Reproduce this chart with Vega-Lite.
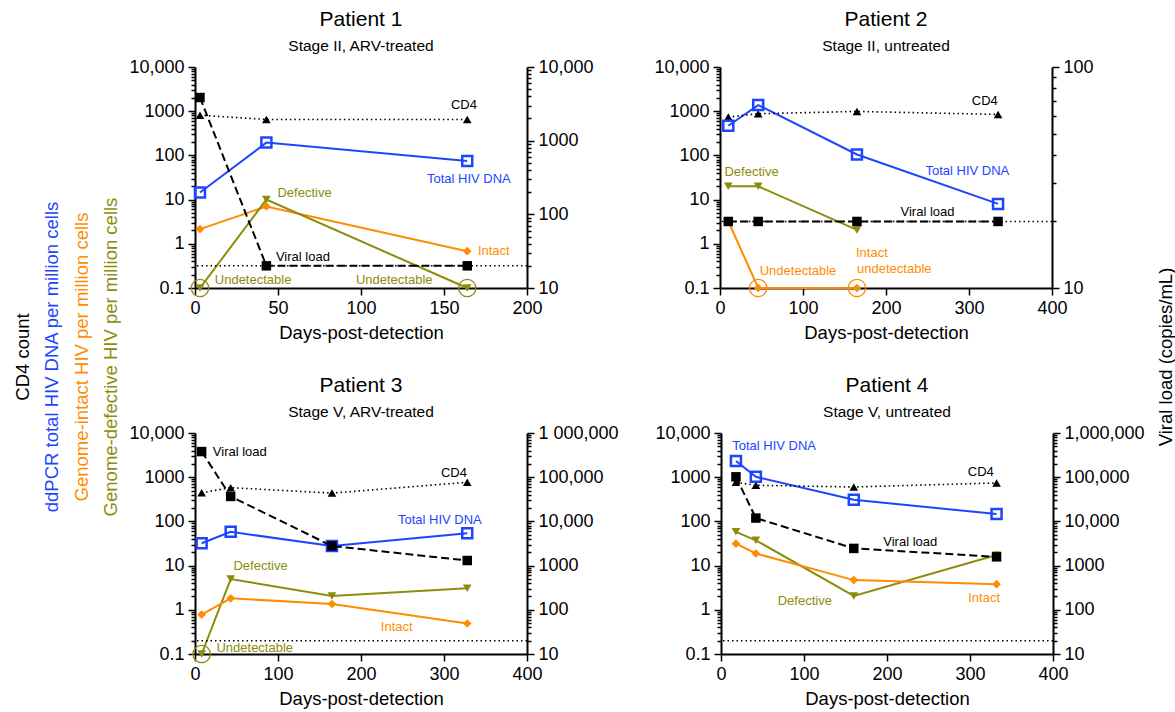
{
  "$schema": "https://vega.github.io/schema/vega-lite/v6.json",
  "background": "white",
  "padding": {"left": 5, "right": 3, "top": 8, "bottom": 4},
  "spacing": 11,
  "data": {"values": [
    {"p":"L","s":"CD4","t":"CD4 count"},
    {"p":"L","s":"Total","t":"ddPCR total HIV DNA per million cells"},
    {"p":"L","s":"Intact","t":"Genome-intact HIV per million cells"},
    {"p":"L","s":"Defective","t":"Genome-defective HIV per million cells"},
    {"p":"R","s":"VL","t":"Viral load (copies/mL)"},

    {"p":1,"s":"CD4","d":3,"v":810},{"p":1,"s":"CD4","d":43,"v":650},{"p":1,"s":"CD4","d":164,"v":650},
    {"p":1,"s":"Total","d":3,"v":14.5},{"p":1,"s":"Total","d":43,"v":195},{"p":1,"s":"Total","d":164,"v":75},
    {"p":1,"s":"Intact","d":3,"v":2.15},{"p":1,"s":"Intact","d":43,"v":7},{"p":1,"s":"Intact","d":164,"v":0.68},
    {"p":1,"s":"Defective","d":3,"v":0.1},{"p":1,"s":"Defective","d":43,"v":10},{"p":1,"s":"Defective","d":164,"v":0.1},
    {"p":1,"s":"VL","d":3,"v":3850},{"p":1,"s":"VL","d":43,"v":20},{"p":1,"s":"VL","d":164,"v":20},
    {"p":1,"s":"Limit","v":20},
    {"p":1,"s":"CD4","t":"CD4","d":162,"v":1400},
    {"p":1,"s":"Total","t":"Total HIV DNA","d":165,"v":29},
    {"p":1,"s":"Defective","t":"Defective","d":66,"v":14},
    {"p":1,"s":"Intact","t":"Intact","d":180,"v":0.68},
    {"p":1,"s":"VL","t":"Viral load","d":65,"v":0.5},
    {"p":1,"s":"Defective","t":"Undetectable","d":35,"v":0.15},
    {"p":1,"s":"Defective","t":"Undetectable","d":120,"v":0.15},

    {"p":2,"s":"Total","d":10,"v":468},{"p":2,"s":"Total","d":46,"v":1377},{"p":2,"s":"Total","d":165,"v":105},{"p":2,"s":"Total","d":335,"v":8},
    {"p":2,"s":"CD4","d":10,"v":736},{"p":2,"s":"CD4","d":46,"v":877},{"p":2,"s":"CD4","d":165,"v":988},{"p":2,"s":"CD4","d":335,"v":845},
    {"p":2,"s":"Defective","d":10,"v":20.1},{"p":2,"s":"Defective","d":46,"v":20},{"p":2,"s":"Defective","d":165,"v":2.06},
    {"p":2,"s":"Intact","d":10,"v":3.24},{"p":2,"s":"Intact","d":46,"v":0.1},{"p":2,"s":"Intact","d":165,"v":0.1},
    {"p":2,"s":"VL","d":10,"v":20},{"p":2,"s":"VL","d":46,"v":20},{"p":2,"s":"VL","d":165,"v":20},{"p":2,"s":"VL","d":335,"v":20},
    {"p":2,"s":"Limit","v":20},
    {"p":2,"s":"CD4","t":"CD4","d":319,"v":1660},
    {"p":2,"s":"Total","t":"Total HIV DNA","d":298,"v":44},
    {"p":2,"s":"Defective","t":"Defective","d":38,"v":42},
    {"p":2,"s":"VL","t":"Viral load","d":250,"v":5.2},
    {"p":2,"s":"Intact","t":"Undetectable","d":94,"v":0.24},
    {"p":2,"s":"Intact","t":"Intact","d":183,"v":0.62},
    {"p":2,"s":"Intact","t":"undetectable","d":210,"v":0.265},

    {"p":3,"s":"VL","d":8,"v":380000},{"p":3,"s":"VL","d":43,"v":36700},{"p":3,"s":"VL","d":165,"v":2775},{"p":3,"s":"VL","d":328,"v":1303},
    {"p":3,"s":"CD4","d":8,"v":446},{"p":3,"s":"CD4","d":43,"v":580},{"p":3,"s":"CD4","d":165,"v":437},{"p":3,"s":"CD4","d":328,"v":767},
    {"p":3,"s":"Total","d":8,"v":32},{"p":3,"s":"Total","d":43,"v":58},{"p":3,"s":"Total","d":165,"v":27.7},{"p":3,"s":"Total","d":328,"v":54},
    {"p":3,"s":"Defective","d":8,"v":0.1},{"p":3,"s":"Defective","d":43,"v":4.95},{"p":3,"s":"Defective","d":165,"v":2.06},{"p":3,"s":"Defective","d":328,"v":3.08},
    {"p":3,"s":"Intact","d":8,"v":0.78},{"p":3,"s":"Intact","d":43,"v":1.82},{"p":3,"s":"Intact","d":165,"v":1.35},{"p":3,"s":"Intact","d":328,"v":0.49},
    {"p":3,"s":"Limit","v":20},
    {"p":3,"s":"VL","t":"Viral load","d":54,"v":3800},
    {"p":3,"s":"CD4","t":"CD4","d":312,"v":1260},
    {"p":3,"s":"Total","t":"Total HIV DNA","d":295,"v":107},
    {"p":3,"s":"Defective","t":"Defective","d":79,"v":10},
    {"p":3,"s":"Intact","t":"Intact","d":243,"v":0.41},
    {"p":3,"s":"Defective","t":"Undetectable","d":72,"v":0.14},

    {"p":4,"s":"Total","d":18,"v":2323},{"p":4,"s":"Total","d":42,"v":1019},{"p":4,"s":"Total","d":160,"v":308},{"p":4,"s":"Total","d":332,"v":147},
    {"p":4,"s":"CD4","d":18,"v":767},{"p":4,"s":"CD4","d":42,"v":656},{"p":4,"s":"CD4","d":160,"v":601},{"p":4,"s":"CD4","d":332,"v":741},
    {"p":4,"s":"VL","d":18,"v":102000},{"p":4,"s":"VL","d":42,"v":11900},{"p":4,"s":"VL","d":160,"v":2450},{"p":4,"s":"VL","d":332,"v":1578},
    {"p":4,"s":"Defective","d":18,"v":58},{"p":4,"s":"Defective","d":42,"v":37.4},{"p":4,"s":"Defective","d":160,"v":2.06},{"p":4,"s":"Defective","d":332,"v":17.3},
    {"p":4,"s":"Intact","d":18,"v":31.3},{"p":4,"s":"Intact","d":42,"v":18.8},{"p":4,"s":"Intact","d":160,"v":4.7},{"p":4,"s":"Intact","d":332,"v":3.8},
    {"p":4,"s":"Limit","v":20},
    {"p":4,"s":"Total","t":"Total HIV DNA","d":64,"v":4950},
    {"p":4,"s":"CD4","t":"CD4","d":313,"v":1320},
    {"p":4,"s":"VL","t":"Viral load","d":228,"v":35},
    {"p":4,"s":"Defective","t":"Defective","d":101,"v":1.58},
    {"p":4,"s":"Intact","t":"Intact","d":317,"v":1.82}
  ]},
  "hconcat": [
    {
      "spacing": 5,
      "hconcat": [
        {
          "width": 118, "height": 580,
          "transform": [{"filter": "datum.p=='L'"}],
          "mark": {"type": "text", "angle": 270, "fontSize": 18.5, "align": "center", "baseline": "middle"},
          "encoding": {
            "x": {"field": "s", "type": "nominal", "scale": {"type": "point", "domain": ["CD4","Total","Intact","Defective"], "range": [18,106], "padding": 0}, "axis": null},
            "text": {"field": "t"},
            "color": {"field": "s", "type": "nominal", "scale": {"domain": ["Total","Intact","Defective","CD4","VL"], "range": ["#1d45ff","#ff8c00","#8c8c0a","#000000","#000000"]}, "legend": null}
          }
        },
        {
          "spacing": 32,
          "vconcat": [
            {
              "spacing": 35,
              "hconcat": [
                {
                  "width": 332, "height": 221,
                  "title": {"text": "Patient 1", "subtitle": "Stage II, ARV-treated"},
                  "transform": [{"filter": "datum.p==1"}],
                  "layer": [
                    {"layer": [
                      {"transform": [{"filter": "!datum.t && (datum.s=='Total'||datum.s=='Intact'||datum.s=='Defective')"}],
                       "mark": {"type": "line", "strokeWidth": 2},
                       "encoding": {
                         "x": {"field": "d", "type": "quantitative", "scale": {"domain": [0,200]}, "axis": {"values": [0,50,100,150,200], "title": "Days-post-detection"}},
                         "y": {"field": "v", "type": "quantitative", "scale": {"type": "log", "domain": [0.1,10000]},
                               "axis": {"orient": "left", "title": null, "labelOverlap": false,
                                        "values": [0.1,0.2,0.3,0.4,0.5,0.6,0.7,0.8,0.9,1,2,3,4,5,6,7,8,9,10,20,30,40,50,60,70,80,90,100,200,300,400,500,600,700,800,900,1000,2000,3000,4000,5000,6000,7000,8000,9000,10000],
                                        "labelExpr": "datum.value==10000?'10,000':datum.value==1000?'1000':datum.value==100?'100':datum.value==10?'10':datum.value==1?'1':datum.value==0.1?'0.1':''",
                                        "tickSize": {"condition": {"test": "indexof([0.1,1,10,100,1000,10000], datum.value) >= 0", "value": 7}, "value": 4}}},
                         "color": {"field": "s", "type": "nominal", "scale": {"domain": ["Total","Intact","Defective","CD4","VL"], "range": ["#1d45ff","#ff8c00","#8c8c0a","#000000","#000000"]}, "legend": null}
                       }},
                      {"transform": [{"filter": "!datum.t && datum.s=='CD4'"}],
                       "mark": {"type": "line", "strokeWidth": 1.6, "strokeDash": [1.5,3], "color": "black"},
                       "encoding": {"x": {"field": "d", "type": "quantitative"}, "y": {"field": "v", "type": "quantitative"}}},
                      {"transform": [{"filter": "!datum.t && (datum.s=='Intact'||datum.s=='Defective'||datum.s=='CD4')"}],
                       "mark": {"type": "point", "filled": true, "opacity": 1, "size": 75},
                       "encoding": {"x": {"field": "d", "type": "quantitative"}, "y": {"field": "v", "type": "quantitative"},
                         "color": {"field": "s", "type": "nominal", "legend": null},
                         "shape": {"field": "s", "type": "nominal", "scale": {"domain": ["Intact","Defective","CD4"], "range": ["diamond","triangle-down","triangle-up"]}, "legend": null}}},
                      {"transform": [{"filter": "!datum.t && datum.s=='Total'"}],
                       "mark": {"type": "point", "shape": "square", "filled": false, "size": 100, "strokeWidth": 2.5, "color": "#1d45ff", "opacity": 1},
                       "encoding": {"x": {"field": "d", "type": "quantitative"}, "y": {"field": "v", "type": "quantitative"}}},
                      {"transform": [{"filter": "!datum.t && datum.v<=0.1 && (datum.s=='Defective'||datum.s=='Intact')"}],
                       "mark": {"type": "point", "shape": "circle", "filled": false, "size": 300, "strokeWidth": 1.3, "opacity": 1},
                       "encoding": {"x": {"field": "d", "type": "quantitative"}, "y": {"field": "v", "type": "quantitative"}, "color": {"field": "s", "type": "nominal", "legend": null}}},
                      {"transform": [{"filter": "datum.t"}],
                       "mark": {"type": "text", "fontSize": 13},
                       "encoding": {"x": {"field": "d", "type": "quantitative"}, "y": {"field": "v", "type": "quantitative"}, "text": {"field": "t"}, "color": {"field": "s", "type": "nominal", "legend": null}}}
                    ]},
                    {"layer": [
                      {"transform": [{"filter": "datum.s=='Limit'"}],
                       "mark": {"type": "rule", "strokeDash": [1.5,3], "strokeWidth": 1.6, "color": "black"},
                       "encoding": {"y": {"field": "v", "type": "quantitative", "scale": {"type": "log", "domain": [10,10000]},
                         "axis": {"orient": "right", "title": null, "labelOverlap": false, "minExtent": 91, "maxExtent": 91,
                                  "values": [10,20,30,40,50,60,70,80,90,100,200,300,400,500,600,700,800,900,1000,2000,3000,4000,5000,6000,7000,8000,9000,10000],
                                  "labelExpr": "datum.value==10000?'10,000':datum.value==1000?'1000':datum.value==100?'100':datum.value==10?'10':''",
                                  "tickSize": {"condition": {"test": "indexof([10,100,1000,10000], datum.value) >= 0", "value": 7}, "value": 4}}}}},
                      {"transform": [{"filter": "!datum.t && datum.s=='VL'"}],
                       "mark": {"type": "line", "strokeWidth": 2, "strokeDash": [8,4], "color": "black"},
                       "encoding": {"x": {"field": "d", "type": "quantitative"}, "y": {"field": "v", "type": "quantitative"}}},
                      {"transform": [{"filter": "!datum.t && datum.s=='VL'"}],
                       "mark": {"type": "point", "shape": "square", "filled": true, "size": 90, "color": "black", "opacity": 1},
                       "encoding": {"x": {"field": "d", "type": "quantitative"}, "y": {"field": "v", "type": "quantitative"}}}
                    ]}
                  ],
                  "resolve": {"scale": {"y": "independent"}}
                },
                {
                  "width": 332, "height": 221,
                  "title": {"text": "Patient 2", "subtitle": "Stage II, untreated"},
                  "transform": [{"filter": "datum.p==2"}],
                  "layer": [
                    {"layer": [
                      {"transform": [{"filter": "!datum.t && (datum.s=='Total'||datum.s=='Intact'||datum.s=='Defective')"}],
                       "mark": {"type": "line", "strokeWidth": 2},
                       "encoding": {
                         "x": {"field": "d", "type": "quantitative", "scale": {"domain": [0,400]}, "axis": {"values": [0,100,200,300,400], "title": "Days-post-detection"}},
                         "y": {"field": "v", "type": "quantitative", "scale": {"type": "log", "domain": [0.1,10000]},
                               "axis": {"orient": "left", "title": null, "labelOverlap": false,
                                        "values": [0.1,0.2,0.3,0.4,0.5,0.6,0.7,0.8,0.9,1,2,3,4,5,6,7,8,9,10,20,30,40,50,60,70,80,90,100,200,300,400,500,600,700,800,900,1000,2000,3000,4000,5000,6000,7000,8000,9000,10000],
                                        "labelExpr": "datum.value==10000?'10,000':datum.value==1000?'1000':datum.value==100?'100':datum.value==10?'10':datum.value==1?'1':datum.value==0.1?'0.1':''",
                                        "tickSize": {"condition": {"test": "indexof([0.1,1,10,100,1000,10000], datum.value) >= 0", "value": 7}, "value": 4}}},
                         "color": {"field": "s", "type": "nominal", "scale": {"domain": ["Total","Intact","Defective","CD4","VL"], "range": ["#1d45ff","#ff8c00","#8c8c0a","#000000","#000000"]}, "legend": null}
                       }},
                      {"transform": [{"filter": "!datum.t && datum.s=='CD4'"}],
                       "mark": {"type": "line", "strokeWidth": 1.6, "strokeDash": [1.5,3], "color": "black"},
                       "encoding": {"x": {"field": "d", "type": "quantitative"}, "y": {"field": "v", "type": "quantitative"}}},
                      {"transform": [{"filter": "!datum.t && (datum.s=='Intact'||datum.s=='Defective'||datum.s=='CD4')"}],
                       "mark": {"type": "point", "filled": true, "opacity": 1, "size": 75},
                       "encoding": {"x": {"field": "d", "type": "quantitative"}, "y": {"field": "v", "type": "quantitative"},
                         "color": {"field": "s", "type": "nominal", "legend": null},
                         "shape": {"field": "s", "type": "nominal", "scale": {"domain": ["Intact","Defective","CD4"], "range": ["diamond","triangle-down","triangle-up"]}, "legend": null}}},
                      {"transform": [{"filter": "!datum.t && datum.s=='Total'"}],
                       "mark": {"type": "point", "shape": "square", "filled": false, "size": 100, "strokeWidth": 2.5, "color": "#1d45ff", "opacity": 1},
                       "encoding": {"x": {"field": "d", "type": "quantitative"}, "y": {"field": "v", "type": "quantitative"}}},
                      {"transform": [{"filter": "!datum.t && datum.v<=0.1 && (datum.s=='Defective'||datum.s=='Intact')"}],
                       "mark": {"type": "point", "shape": "circle", "filled": false, "size": 300, "strokeWidth": 1.3, "opacity": 1},
                       "encoding": {"x": {"field": "d", "type": "quantitative"}, "y": {"field": "v", "type": "quantitative"}, "color": {"field": "s", "type": "nominal", "legend": null}}},
                      {"transform": [{"filter": "datum.t"}],
                       "mark": {"type": "text", "fontSize": 13},
                       "encoding": {"x": {"field": "d", "type": "quantitative"}, "y": {"field": "v", "type": "quantitative"}, "text": {"field": "t"}, "color": {"field": "s", "type": "nominal", "legend": null}}}
                    ]},
                    {"layer": [
                      {"transform": [{"filter": "datum.s=='Limit'"}],
                       "mark": {"type": "rule", "strokeDash": [1.5,3], "strokeWidth": 1.6, "color": "black"},
                       "encoding": {"y": {"field": "v", "type": "quantitative", "scale": {"type": "log", "domain": [10,100]},
                         "axis": {"orient": "right", "title": null, "labelOverlap": false, "minExtent": 91, "maxExtent": 91,
                                  "values": [10,20,30,40,50,60,70,80,90,100],
                                  "labelExpr": "datum.value==100?'100':datum.value==10?'10':''",
                                  "tickSize": {"condition": {"test": "indexof([10,100], datum.value) >= 0", "value": 7}, "value": 4}}}}},
                      {"transform": [{"filter": "!datum.t && datum.s=='VL'"}],
                       "mark": {"type": "line", "strokeWidth": 2, "strokeDash": [8,4], "color": "black"},
                       "encoding": {"x": {"field": "d", "type": "quantitative"}, "y": {"field": "v", "type": "quantitative"}}},
                      {"transform": [{"filter": "!datum.t && datum.s=='VL'"}],
                       "mark": {"type": "point", "shape": "square", "filled": true, "size": 90, "color": "black", "opacity": 1},
                       "encoding": {"x": {"field": "d", "type": "quantitative"}, "y": {"field": "v", "type": "quantitative"}}}
                    ]}
                  ],
                  "resolve": {"scale": {"y": "independent"}}
                }
              ]
            },
            {
              "spacing": 35,
              "hconcat": [
                {
                  "width": 332, "height": 221,
                  "title": {"text": "Patient 3", "subtitle": "Stage V, ARV-treated"},
                  "transform": [{"filter": "datum.p==3"}],
                  "layer": [
                    {"layer": [
                      {"transform": [{"filter": "!datum.t && (datum.s=='Total'||datum.s=='Intact'||datum.s=='Defective')"}],
                       "mark": {"type": "line", "strokeWidth": 2},
                       "encoding": {
                         "x": {"field": "d", "type": "quantitative", "scale": {"domain": [0,400]}, "axis": {"values": [0,100,200,300,400], "title": "Days-post-detection"}},
                         "y": {"field": "v", "type": "quantitative", "scale": {"type": "log", "domain": [0.1,10000]},
                               "axis": {"orient": "left", "title": null, "labelOverlap": false,
                                        "values": [0.1,0.2,0.3,0.4,0.5,0.6,0.7,0.8,0.9,1,2,3,4,5,6,7,8,9,10,20,30,40,50,60,70,80,90,100,200,300,400,500,600,700,800,900,1000,2000,3000,4000,5000,6000,7000,8000,9000,10000],
                                        "labelExpr": "datum.value==10000?'10,000':datum.value==1000?'1000':datum.value==100?'100':datum.value==10?'10':datum.value==1?'1':datum.value==0.1?'0.1':''",
                                        "tickSize": {"condition": {"test": "indexof([0.1,1,10,100,1000,10000], datum.value) >= 0", "value": 7}, "value": 4}}},
                         "color": {"field": "s", "type": "nominal", "scale": {"domain": ["Total","Intact","Defective","CD4","VL"], "range": ["#1d45ff","#ff8c00","#8c8c0a","#000000","#000000"]}, "legend": null}
                       }},
                      {"transform": [{"filter": "!datum.t && datum.s=='CD4'"}],
                       "mark": {"type": "line", "strokeWidth": 1.6, "strokeDash": [1.5,3], "color": "black"},
                       "encoding": {"x": {"field": "d", "type": "quantitative"}, "y": {"field": "v", "type": "quantitative"}}},
                      {"transform": [{"filter": "!datum.t && (datum.s=='Intact'||datum.s=='Defective'||datum.s=='CD4')"}],
                       "mark": {"type": "point", "filled": true, "opacity": 1, "size": 75},
                       "encoding": {"x": {"field": "d", "type": "quantitative"}, "y": {"field": "v", "type": "quantitative"},
                         "color": {"field": "s", "type": "nominal", "legend": null},
                         "shape": {"field": "s", "type": "nominal", "scale": {"domain": ["Intact","Defective","CD4"], "range": ["diamond","triangle-down","triangle-up"]}, "legend": null}}},
                      {"transform": [{"filter": "!datum.t && datum.s=='Total'"}],
                       "mark": {"type": "point", "shape": "square", "filled": false, "size": 100, "strokeWidth": 2.5, "color": "#1d45ff", "opacity": 1},
                       "encoding": {"x": {"field": "d", "type": "quantitative"}, "y": {"field": "v", "type": "quantitative"}}},
                      {"transform": [{"filter": "!datum.t && datum.v<=0.1 && (datum.s=='Defective'||datum.s=='Intact')"}],
                       "mark": {"type": "point", "shape": "circle", "filled": false, "size": 300, "strokeWidth": 1.3, "opacity": 1},
                       "encoding": {"x": {"field": "d", "type": "quantitative"}, "y": {"field": "v", "type": "quantitative"}, "color": {"field": "s", "type": "nominal", "legend": null}}},
                      {"transform": [{"filter": "datum.t"}],
                       "mark": {"type": "text", "fontSize": 13},
                       "encoding": {"x": {"field": "d", "type": "quantitative"}, "y": {"field": "v", "type": "quantitative"}, "text": {"field": "t"}, "color": {"field": "s", "type": "nominal", "legend": null}}}
                    ]},
                    {"layer": [
                      {"transform": [{"filter": "datum.s=='Limit'"}],
                       "mark": {"type": "rule", "strokeDash": [1.5,3], "strokeWidth": 1.6, "color": "black"},
                       "encoding": {"y": {"field": "v", "type": "quantitative", "scale": {"type": "log", "domain": [10,1000000]},
                         "axis": {"orient": "right", "title": null, "labelOverlap": false, "minExtent": 91, "maxExtent": 91,
                                  "values": [10,20,30,40,50,60,70,80,90,100,200,300,400,500,600,700,800,900,1000,2000,3000,4000,5000,6000,7000,8000,9000,10000,20000,30000,40000,50000,60000,70000,80000,90000,100000,200000,300000,400000,500000,600000,700000,800000,900000,1000000],
                                  "labelExpr": "datum.value==1000000?'1 000,000':datum.value==100000?'100,000':datum.value==10000?'10,000':datum.value==1000?'1000':datum.value==100?'100':datum.value==10?'10':''",
                                  "tickSize": {"condition": {"test": "indexof([10,100,1000,10000,100000,1000000], datum.value) >= 0", "value": 7}, "value": 4}}}}},
                      {"transform": [{"filter": "!datum.t && datum.s=='VL'"}],
                       "mark": {"type": "line", "strokeWidth": 2, "strokeDash": [8,4], "color": "black"},
                       "encoding": {"x": {"field": "d", "type": "quantitative"}, "y": {"field": "v", "type": "quantitative"}}},
                      {"transform": [{"filter": "!datum.t && datum.s=='VL'"}],
                       "mark": {"type": "point", "shape": "square", "filled": true, "size": 90, "color": "black", "opacity": 1},
                       "encoding": {"x": {"field": "d", "type": "quantitative"}, "y": {"field": "v", "type": "quantitative"}}}
                    ]}
                  ],
                  "resolve": {"scale": {"y": "independent"}}
                },
                {
                  "width": 332, "height": 221,
                  "title": {"text": "Patient 4", "subtitle": "Stage V, untreated"},
                  "transform": [{"filter": "datum.p==4"}],
                  "layer": [
                    {"layer": [
                      {"transform": [{"filter": "!datum.t && (datum.s=='Total'||datum.s=='Intact'||datum.s=='Defective')"}],
                       "mark": {"type": "line", "strokeWidth": 2},
                       "encoding": {
                         "x": {"field": "d", "type": "quantitative", "scale": {"domain": [0,400]}, "axis": {"values": [0,100,200,300,400], "title": "Days-post-detection"}},
                         "y": {"field": "v", "type": "quantitative", "scale": {"type": "log", "domain": [0.1,10000]},
                               "axis": {"orient": "left", "title": null, "labelOverlap": false,
                                        "values": [0.1,0.2,0.3,0.4,0.5,0.6,0.7,0.8,0.9,1,2,3,4,5,6,7,8,9,10,20,30,40,50,60,70,80,90,100,200,300,400,500,600,700,800,900,1000,2000,3000,4000,5000,6000,7000,8000,9000,10000],
                                        "labelExpr": "datum.value==10000?'10,000':datum.value==1000?'1000':datum.value==100?'100':datum.value==10?'10':datum.value==1?'1':datum.value==0.1?'0.1':''",
                                        "tickSize": {"condition": {"test": "indexof([0.1,1,10,100,1000,10000], datum.value) >= 0", "value": 7}, "value": 4}}},
                         "color": {"field": "s", "type": "nominal", "scale": {"domain": ["Total","Intact","Defective","CD4","VL"], "range": ["#1d45ff","#ff8c00","#8c8c0a","#000000","#000000"]}, "legend": null}
                       }},
                      {"transform": [{"filter": "!datum.t && datum.s=='CD4'"}],
                       "mark": {"type": "line", "strokeWidth": 1.6, "strokeDash": [1.5,3], "color": "black"},
                       "encoding": {"x": {"field": "d", "type": "quantitative"}, "y": {"field": "v", "type": "quantitative"}}},
                      {"transform": [{"filter": "!datum.t && (datum.s=='Intact'||datum.s=='Defective'||datum.s=='CD4')"}],
                       "mark": {"type": "point", "filled": true, "opacity": 1, "size": 75},
                       "encoding": {"x": {"field": "d", "type": "quantitative"}, "y": {"field": "v", "type": "quantitative"},
                         "color": {"field": "s", "type": "nominal", "legend": null},
                         "shape": {"field": "s", "type": "nominal", "scale": {"domain": ["Intact","Defective","CD4"], "range": ["diamond","triangle-down","triangle-up"]}, "legend": null}}},
                      {"transform": [{"filter": "!datum.t && datum.s=='Total'"}],
                       "mark": {"type": "point", "shape": "square", "filled": false, "size": 100, "strokeWidth": 2.5, "color": "#1d45ff", "opacity": 1},
                       "encoding": {"x": {"field": "d", "type": "quantitative"}, "y": {"field": "v", "type": "quantitative"}}},
                      {"transform": [{"filter": "datum.t"}],
                       "mark": {"type": "text", "fontSize": 13},
                       "encoding": {"x": {"field": "d", "type": "quantitative"}, "y": {"field": "v", "type": "quantitative"}, "text": {"field": "t"}, "color": {"field": "s", "type": "nominal", "legend": null}}}
                    ]},
                    {"layer": [
                      {"transform": [{"filter": "datum.s=='Limit'"}],
                       "mark": {"type": "rule", "strokeDash": [1.5,3], "strokeWidth": 1.6, "color": "black"},
                       "encoding": {"y": {"field": "v", "type": "quantitative", "scale": {"type": "log", "domain": [10,1000000]},
                         "axis": {"orient": "right", "title": null, "labelOverlap": false, "minExtent": 91, "maxExtent": 91,
                                  "values": [10,20,30,40,50,60,70,80,90,100,200,300,400,500,600,700,800,900,1000,2000,3000,4000,5000,6000,7000,8000,9000,10000,20000,30000,40000,50000,60000,70000,80000,90000,100000,200000,300000,400000,500000,600000,700000,800000,900000,1000000],
                                  "labelExpr": "datum.value==1000000?'1,000,000':datum.value==100000?'100,000':datum.value==10000?'10,000':datum.value==1000?'1000':datum.value==100?'100':datum.value==10?'10':''",
                                  "tickSize": {"condition": {"test": "indexof([10,100,1000,10000,100000,1000000], datum.value) >= 0", "value": 7}, "value": 4}}}}},
                      {"transform": [{"filter": "!datum.t && datum.s=='VL'"}],
                       "mark": {"type": "line", "strokeWidth": 2, "strokeDash": [8,4], "color": "black"},
                       "encoding": {"x": {"field": "d", "type": "quantitative"}, "y": {"field": "v", "type": "quantitative"}}},
                      {"transform": [{"filter": "!datum.t && datum.s=='VL'"}],
                       "mark": {"type": "point", "shape": "square", "filled": true, "size": 90, "color": "black", "opacity": 1},
                       "encoding": {"x": {"field": "d", "type": "quantitative"}, "y": {"field": "v", "type": "quantitative"}}}
                    ]}
                  ],
                  "resolve": {"scale": {"y": "independent"}}
                }
              ]
            }
          ]
        }
      ]
    },
    {
      "width": 20, "height": 580,
      "transform": [{"filter": "datum.p=='R'"}],
      "mark": {"type": "text", "angle": 270, "fontSize": 18.5, "color": "black", "align": "center", "baseline": "middle"},
      "encoding": {"text": {"field": "t"}}
    }
  ],
  "config": {
    "font": "Liberation Sans",
    "view": {"stroke": null},
    "legend": {"disable": true},
    "axis": {"grid": false, "labelFont": "Liberation Sans", "labelFontSize": 18, "labelColor": "black", "domainColor": "black", "domainWidth": 2, "tickColor": "black", "tickWidth": 1.5, "titleFont": "Liberation Sans", "titleFontSize": 18.5, "titleFontWeight": "normal", "titleColor": "black", "labelPadding": 4},
    "axisX": {"tickSize": 7, "labelFlush": false, "titlePadding": 6},
    "title": {"font": "Liberation Sans", "fontSize": 21, "fontWeight": "normal", "color": "black", "subtitleFont": "Liberation Sans", "subtitleFontSize": 15.5, "subtitleColor": "black", "subtitlePadding": 9, "offset": 4, "frame": "group", "anchor": "middle"},
    "text": {"font": "Liberation Sans"}
  }
}
